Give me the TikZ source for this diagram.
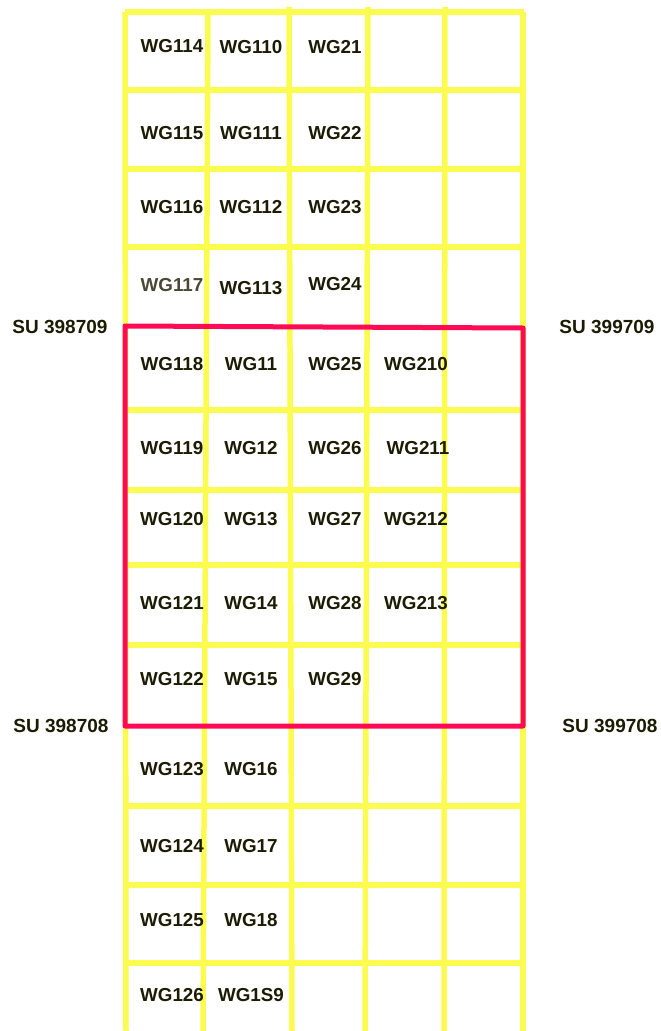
\documentclass[tikz,border=0pt]{standalone}
\usepackage{fontspec}
\setmainfont{Liberation Sans}

\definecolor{gridyellow}{HTML}{FCFC50}
\definecolor{siteRed}{HTML}{FF0A55}
\definecolor{labelInk}{HTML}{1C1C05}

\begin{document}
\begin{tikzpicture}[x=1pt, y=-1pt,
  gridline/.style={gridyellow, line width=5.5pt},
  trench/.style={siteRed, line width=5pt, line join=round},
  cell/.style={labelInk, font=\fontsize{18.8}{20}\selectfont\bfseries, inner sep=0pt},
  ref/.style={labelInk, font=\fontsize{19}{20}\selectfont\bfseries, inner sep=0pt}]
  \useasboundingbox (0, 0) rectangle (661, 1031);

  % grid
  \foreach \y in {12, 90, 169, 247, 410, 490, 565, 645, 806, 885, 963}
    \draw[gridline] (125, \y) -- (524, \y);
  \draw[gridline] (125, 12) -- (126, 1031);
  \draw[gridline] (208, 12) -- (203, 1031);
  \draw[gridline] (289, 7) -- (292, 1031);
  \draw[gridline] (368, 7) -- (365, 1031);
  \draw[gridline] (445, 7) -- (444, 1031);
  \draw[gridline] (523, 12) -- (523, 1031);

  % red outline
  \draw[trench] (125, 326) -- (523, 328) -- (523, 726) -- (125, 726) -- cycle;

  % column 1
  \node[cell] (wg114) at (172, 46)  {WG114};
  \node[cell] (wg115) at (172, 133) {WG115};
  \node[cell] (wg116) at (172, 207) {WG116};
  \node[cell, labelInk!80] (wg117) at (172, 285) {WG117};
  \node[cell] (wg118) at (172, 364) {WG118};
  \node[cell] (wg119) at (172, 448) {WG119};
  \node[cell] (wg120) at (172, 519) {WG120};
  \node[cell] (wg121) at (172, 603) {WG121};
  \node[cell] (wg122) at (172, 679) {WG122};
  \node[cell] (wg123) at (172, 769) {WG123};
  \node[cell] (wg124) at (172, 846) {WG124};
  \node[cell] (wg125) at (172, 920) {WG125};
  \node[cell] (wg126) at (172, 995) {WG126};

  % column 2
  \node[cell] (wg110) at (251, 47)  {WG110};
  \node[cell] (wg111) at (251, 133) {WG111};
  \node[cell] (wg112) at (251, 207) {WG112};
  \node[cell] (wg113) at (251, 288) {WG113};
  \node[cell] (wg11)  at (251, 364) {WG11};
  \node[cell] (wg12)  at (251, 448) {WG12};
  \node[cell] (wg13)  at (251, 519) {WG13};
  \node[cell] (wg14)  at (251, 603) {WG14};
  \node[cell] (wg15)  at (251, 679) {WG15};
  \node[cell] (wg16)  at (251, 769) {WG16};
  \node[cell] (wg17)  at (251, 846) {WG17};
  \node[cell] (wg18)  at (251, 920) {WG18};
  \node[cell] (wg1s9) at (251, 995) {WG1S9};

  % column 3
  \node[cell] (wg21) at (335, 47)  {WG21};
  \node[cell] (wg22) at (335, 133) {WG22};
  \node[cell] (wg23) at (335, 207) {WG23};
  \node[cell] (wg24) at (335, 284) {WG24};
  \node[cell] (wg25) at (335, 364) {WG25};
  \node[cell] (wg26) at (335, 448) {WG26};
  \node[cell] (wg27) at (335, 519) {WG27};
  \node[cell] (wg28) at (335, 603) {WG28};
  \node[cell] (wg29) at (335, 679) {WG29};

  % column 4
  \node[cell] (wg210) at (416, 364) {WG210};
  \node[cell] (wg211) at (418, 448) {WG211};
  \node[cell] (wg212) at (416, 519) {WG212};
  \node[cell] (wg213) at (416, 603) {WG213};

  % grid references
  \node[ref] (nw) at (60, 327)  {SU 398709};
  \node[ref] (ne) at (607, 327) {SU 399709};
  \node[ref] (sw) at (61, 726)  {SU 398708};
  \node[ref] (se) at (610, 726) {SU 399708};
\end{tikzpicture}
\end{document}
